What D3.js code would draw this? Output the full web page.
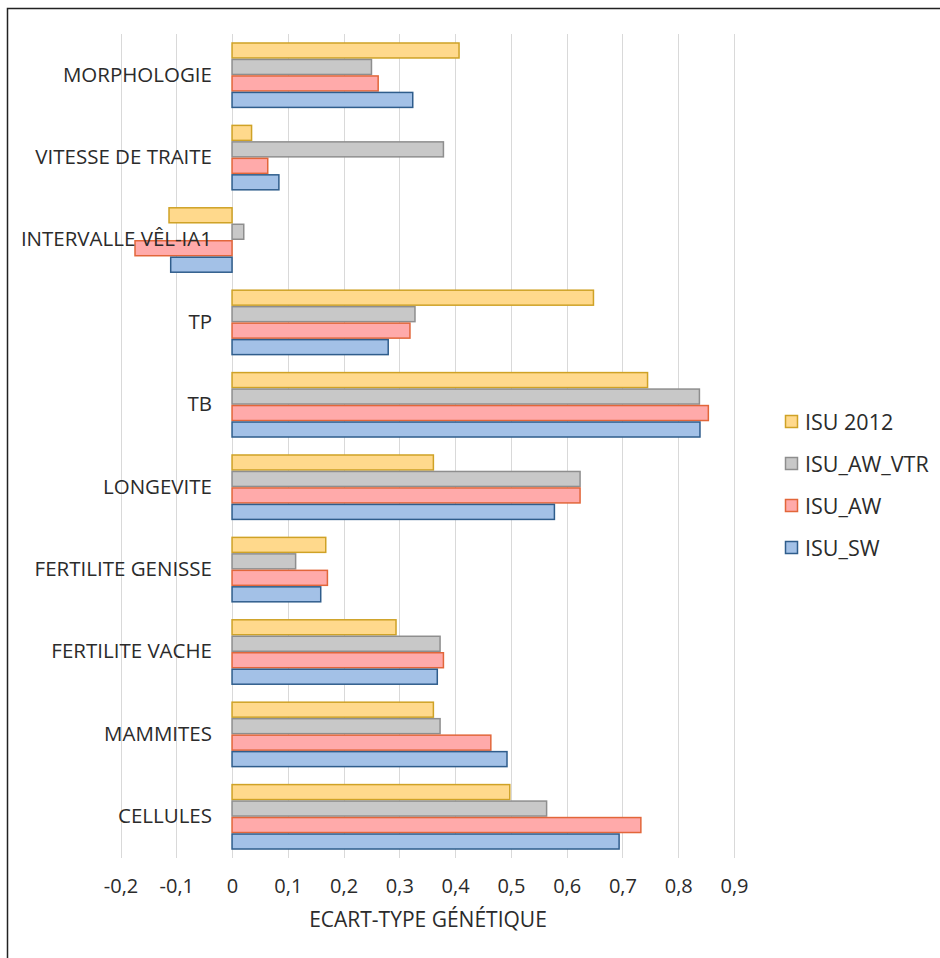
<!DOCTYPE html>
<html>
<head>
<meta charset="utf-8">
<script src="https://cdn.jsdelivr.net/npm/d3@7"></script>
<style>
  html, body { margin: 0; padding: 0; background: #fff; }
  svg { display: block; }
  text { font-family: "Open Sans", "Noto Sans", sans-serif; fill: #2b2b2b; }
</style>
</head>
<body>
<svg id="chart" width="940" height="958"></svg>
<script>
// Traits, top to bottom
const categories = [
  "MORPHOLOGIE", "VITESSE DE TRAITE", "INTERVALLE VÊL-IA1", "TP", "TB",
  "LONGEVITE", "FERTILITE GENISSE", "FERTILITE VACHE", "MAMMITES", "CELLULES"
];

// Series, in legend order (drawn top to bottom inside each group)
const seriesNames = ["ISU 2012", "ISU_AW_VTR", "ISU_AW", "ISU_SW"];

const isu2012  = [0.407, 0.035, -0.113, 0.648, 0.745, 0.361, 0.168, 0.294, 0.361, 0.498];
const isuAwVtr = [0.250, 0.379,  0.021, 0.328, 0.838, 0.624, 0.114, 0.373, 0.373, 0.564];
const isuAw    = [0.262, 0.064, -0.174, 0.319, 0.854, 0.624, 0.171, 0.379, 0.464, 0.733];
const isuSw    = [0.324, 0.084, -0.110, 0.280, 0.839, 0.578, 0.159, 0.368, 0.493, 0.694];

const tickValues = [-0.2, -0.1, 0, 0.1, 0.2, 0.3, 0.4, 0.5, 0.6, 0.7, 0.8, 0.9];
const axisTitle = "ECART-TYPE GÉNÉTIQUE";

const seriesValues = [isu2012, isuAwVtr, isuAw, isuSw];
const fills   = ["#FFD98C", "#C8C8C8", "#FFAAAA", "#A3C1E7"];
const strokes = ["#CFA226", "#8E8E8E", "#E2663A", "#2F5D8C"];

const svg = d3.select("#chart");

// chart frame
svg.append("rect")
  .attr("x", 7.5).attr("y", 8.5)
  .attr("width", 960).attr("height", 990)
  .attr("fill", "none").attr("stroke", "#222").attr("stroke-width", 1.5);

const plot = { left: 120.5, right: 734, top: 34, bottom: 858 };

const x = d3.scaleLinear().domain([-0.2, 0.9]).range([plot.left, plot.right]);
const y = d3.scaleBand().domain(categories)
  .range([plot.top, plot.bottom]).paddingInner(0.2).paddingOuter(0.1);
const ySub = d3.scaleBand().domain(seriesNames).range([0, y.bandwidth()]);

// vertical gridlines
svg.append("g")
  .selectAll("line")
  .data(tickValues)
  .join("line")
  .attr("x1", d => Math.round(x(d)) + 0.5)
  .attr("x2", d => Math.round(x(d)) + 0.5)
  .attr("y1", plot.top).attr("y2", plot.bottom)
  .attr("stroke", "#D9D9D9").attr("stroke-width", 1);

// bars
const table = [];
categories.forEach((c, i) => {
  seriesNames.forEach((s, j) => {
    table.push({ cat: c, series: s, si: j, value: seriesValues[j][i] });
  });
});

svg.append("g")
  .selectAll("rect")
  .data(table)
  .join("rect")
  .attr("x", d => x(Math.min(0, d.value)))
  .attr("width", d => Math.abs(x(d.value) - x(0)))
  .attr("y", d => y(d.cat) + ySub(d.series) + 0.75)
  .attr("height", ySub.bandwidth() - 1.5)
  .attr("fill", d => fills[d.si])
  .attr("stroke", d => strokes[d.si])
  .attr("stroke-width", 1.5);

// x axis tick labels
const xAxis = d3.axisBottom(x)
  .tickValues(tickValues)
  .tickSize(0)
  .tickPadding(0)
  .tickFormat(d => d3.format(".1~f")(d).replace(".", ",").replace("−", "-"));

const gx = svg.append("g")
  .attr("transform", `translate(0, ${plot.bottom + 35})`)
  .call(xAxis);
gx.select(".domain").remove();
gx.selectAll("text")
  .attr("dy", 0)
  .style("font-size", "20px")
  .style("fill", "#2b2b2b");

// axis title
svg.append("text")
  .attr("x", 428)
  .attr("y", 927)
  .attr("text-anchor", "middle")
  .style("font-size", "21px")
  .text(axisTitle);

// category labels
svg.append("g")
  .selectAll("text")
  .data(categories)
  .join("text")
  .attr("x", 212)
  .attr("y", d => y(d) + y.bandwidth() / 2 - 1)
  .attr("dy", "0.36em")
  .attr("text-anchor", "end")
  .style("font-size", "20.5px")
  .text(d => d);

// legend
const legend = svg.append("g");
seriesNames.forEach((s, j) => {
  const cy = 422 + j * 42;
  legend.append("rect")
    .attr("x", 785.5).attr("y", cy - 6.5)
    .attr("width", 12).attr("height", 12)
    .attr("fill", fills[j]).attr("stroke", strokes[j]).attr("stroke-width", 1.5);
  legend.append("text")
    .attr("x", 805).attr("y", cy)
    .attr("dy", "0.36em")
    .style("font-size", "21.5px")
    .text(s);
});
</script>
</body>
</html>
